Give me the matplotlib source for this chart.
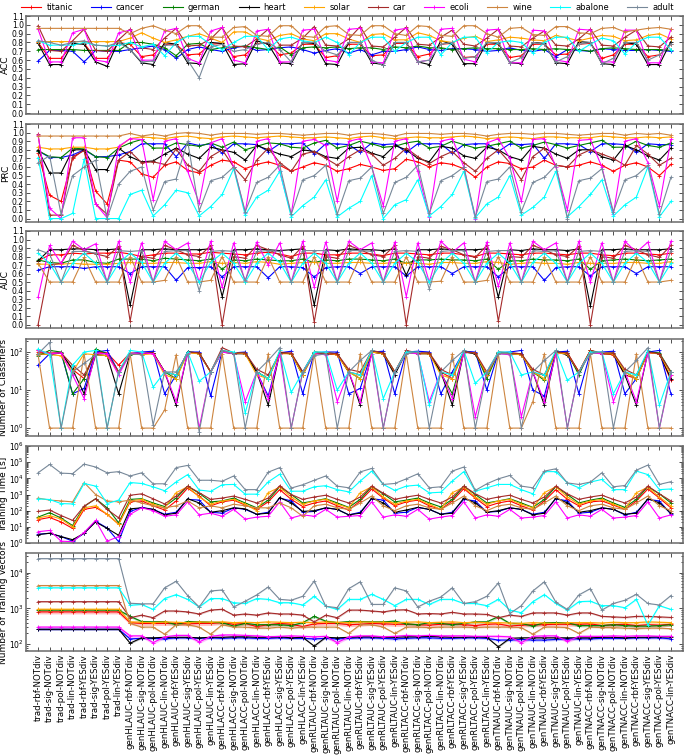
import matplotlib
matplotlib.use("Agg")
import matplotlib.pyplot as plt
import numpy as np

# ---- categories -------------------------------------------------------------
configs = [
    "trad-rbf-NOTdiv", "trad-sig-NOTdiv", "trad-pol-NOTdiv", "trad-lin-NOTdiv",
    "trad-rbf-YESdiv", "trad-sig-YESdiv", "trad-pol-YESdiv", "trad-lin-YESdiv",
    "genHLAUC-rbf-NOTdiv", "genHLAUC-sig-NOTdiv", "genHLAUC-pol-NOTdiv", "genHLAUC-lin-NOTdiv",
    "genHLAUC-rbf-YESdiv", "genHLAUC-sig-YESdiv", "genHLAUC-pol-YESdiv", "genHLAUC-lin-YESdiv",
    "genHLACC-rbf-NOTdiv", "genHLACC-sig-NOTdiv", "genHLACC-pol-NOTdiv", "genHLACC-lin-NOTdiv",
    "genHLACC-rbf-YESdiv", "genHLACC-sig-YESdiv", "genHLACC-pol-YESdiv", "genHLACC-lin-YESdiv",
    "genRLTAUC-rbf-NOTdiv", "genRLTAUC-sig-NOTdiv", "genRLTAUC-pol-NOTdiv", "genRLTAUC-lin-NOTdiv",
    "genRLTAUC-rbf-YESdiv", "genRLTAUC-sig-YESdiv", "genRLTAUC-pol-YESdiv", "genRLTAUC-lin-YESdiv",
    "genRLTACC-rbf-NOTdiv", "genRLTACC-sig-NOTdiv", "genRLTACC-pol-NOTdiv", "genRLTACC-lin-NOTdiv",
    "genRLTACC-rbf-YESdiv", "genRLTACC-sig-YESdiv", "genRLTACC-pol-YESdiv", "genRLTACC-lin-YESdiv",
    "genTNAUC-rbf-NOTdiv", "genTNAUC-sig-NOTdiv", "genTNAUC-pol-NOTdiv", "genTNAUC-lin-NOTdiv",
    "genTNAUC-rbf-YESdiv", "genTNAUC-sig-YESdiv", "genTNAUC-pol-YESdiv", "genTNAUC-lin-YESdiv",
    "genTNACC-rbf-NOTdiv", "genTNACC-sig-NOTdiv", "genTNACC-pol-NOTdiv", "genTNACC-lin-NOTdiv",
    "genTNACC-rbf-YESdiv", "genTNACC-sig-YESdiv", "genTNACC-pol-YESdiv", "genTNACC-lin-YESdiv",
]
datasets = ["titanic", "cancer", "german", "heart", "solar",
            "car", "ecoli", "wine", "abalone", "adult"]
colours = ["red", "blue", "green", "black", "orange",
           "brown", "magenta", "peru", "cyan", "lightslategray"]

# ---- ACC --------------------------------------------------------------------
acc_titanic = [0.80, 0.62, 0.62, 0.78, 0.79, 0.62, 0.62, 0.80,
               0.78, 0.64, 0.66, 0.78, 0.78, 0.66, 0.67, 0.78,
               0.79, 0.64, 0.66, 0.79, 0.79, 0.66, 0.68, 0.78,
               0.78, 0.63, 0.65, 0.78, 0.78, 0.65, 0.66, 0.79,
               0.79, 0.64, 0.67, 0.78, 0.79, 0.63, 0.64, 0.78,
               0.78, 0.63, 0.65, 0.78, 0.78, 0.66, 0.67, 0.78,
               0.79, 0.62, 0.66, 0.78, 0.78, 0.64, 0.66, 0.78]
acc_cancer = [0.59, 0.71, 0.71, 0.70, 0.58, 0.71, 0.70, 0.70,
              0.72, 0.74, 0.76, 0.72, 0.62, 0.72, 0.75, 0.72,
              0.70, 0.74, 0.76, 0.71, 0.72, 0.74, 0.75, 0.72,
              0.68, 0.71, 0.73, 0.68, 0.72, 0.66, 0.70, 0.70,
              0.72, 0.75, 0.72, 0.71, 0.73, 0.73, 0.72, 0.70,
              0.71, 0.74, 0.71, 0.70, 0.72, 0.64, 0.72, 0.71,
              0.70, 0.73, 0.72, 0.71, 0.71, 0.72, 0.71, 0.70]
acc_german = [0.72, 0.72, 0.72, 0.72, 0.71, 0.71, 0.71, 0.71,
              0.80, 0.80, 0.78, 0.74, 0.65, 0.78, 0.79, 0.72,
              0.74, 0.75, 0.76, 0.74, 0.72, 0.75, 0.66, 0.74,
              0.75, 0.74, 0.75, 0.73, 0.74, 0.74, 0.72, 0.75,
              0.74, 0.76, 0.74, 0.74, 0.72, 0.73, 0.74, 0.73,
              0.73, 0.72, 0.72, 0.73, 0.72, 0.73, 0.72, 0.72,
              0.70, 0.73, 0.74, 0.73, 0.72, 0.72, 0.72, 0.71]
acc_heart = [0.79, 0.55, 0.55, 0.79, 0.78, 0.58, 0.53, 0.82,
             0.72, 0.57, 0.55, 0.80, 0.78, 0.57, 0.56, 0.80,
             0.79, 0.55, 0.56, 0.82, 0.78, 0.57, 0.56, 0.80,
             0.79, 0.56, 0.55, 0.80, 0.80, 0.57, 0.55, 0.80,
             0.80, 0.58, 0.55, 0.82, 0.78, 0.56, 0.56, 0.80,
             0.79, 0.57, 0.56, 0.80, 0.79, 0.57, 0.56, 0.81,
             0.80, 0.56, 0.55, 0.80, 0.78, 0.55, 0.55, 0.81]
acc_solar = [0.81, 0.81, 0.81, 0.81, 0.81, 0.81, 0.81, 0.81,
             0.85, 0.91, 0.85, 0.80, 0.83, 0.87, 0.90, 0.85,
             0.80, 0.92, 0.92, 0.85, 0.82, 0.88, 0.90, 0.84,
             0.82, 0.90, 0.90, 0.84, 0.80, 0.89, 0.90, 0.83,
             0.83, 0.91, 0.88, 0.82, 0.80, 0.85, 0.87, 0.81,
             0.83, 0.86, 0.85, 0.83, 0.82, 0.88, 0.85, 0.82,
             0.85, 0.88, 0.87, 0.82, 0.83, 0.88, 0.90, 0.84]
acc_car = [0.99, 0.71, 0.70, 0.82, 0.95, 0.71, 0.70, 0.83,
           0.95, 0.74, 0.72, 0.85, 0.96, 0.76, 0.77, 0.84,
           0.97, 0.76, 0.75, 0.84, 0.95, 0.77, 0.77, 0.85,
           0.98, 0.77, 0.76, 0.84, 0.98, 0.76, 0.75, 0.86,
           0.97, 0.78, 0.77, 0.86, 0.94, 0.78, 0.76, 0.85,
           0.95, 0.76, 0.75, 0.85, 0.93, 0.77, 0.76, 0.84,
           0.95, 0.77, 0.76, 0.86, 0.94, 0.76, 0.75, 0.86]
acc_ecoli = [0.95, 0.58, 0.58, 0.91, 0.95, 0.60, 0.58, 0.91,
             0.94, 0.60, 0.60, 0.93, 0.96, 0.62, 0.57, 0.93,
             0.97, 0.60, 0.57, 0.93, 0.95, 0.58, 0.58, 0.94,
             0.95, 0.60, 0.58, 0.95, 0.96, 0.58, 0.57, 0.94,
             0.96, 0.58, 0.60, 0.95, 0.96, 0.61, 0.58, 0.94,
             0.95, 0.57, 0.57, 0.94, 0.93, 0.60, 0.58, 0.95,
             0.94, 0.58, 0.58, 0.94, 0.94, 0.57, 0.57, 0.95]
acc_wine = [0.96, 0.96, 0.96, 0.96, 0.96, 0.96, 0.96, 0.96,
            0.90, 0.96, 0.99, 0.94, 0.90, 0.99, 0.99, 0.86,
            0.86, 0.97, 0.98, 0.88, 0.87, 0.99, 0.99, 0.87,
            0.86, 0.98, 0.99, 0.89, 0.88, 0.99, 0.99, 0.90,
            0.88, 0.99, 0.98, 0.88, 0.87, 0.99, 0.99, 0.90,
            0.86, 0.96, 0.97, 0.89, 0.88, 0.98, 0.98, 0.91,
            0.90, 0.96, 0.97, 0.92, 0.94, 0.96, 0.97, 0.95]
acc_abalone = [0.82, 0.77, 0.77, 0.77, 0.80, 0.77, 0.76, 0.77,
               0.80, 0.75, 0.78, 0.65, 0.80, 0.87, 0.87, 0.78,
               0.72, 0.80, 0.87, 0.87, 0.72, 0.84, 0.86, 0.82,
               0.80, 0.86, 0.80, 0.66, 0.80, 0.86, 0.86, 0.70,
               0.80, 0.86, 0.86, 0.66, 0.80, 0.86, 0.86, 0.68,
               0.80, 0.82, 0.80, 0.68, 0.80, 0.86, 0.86, 0.70,
               0.78, 0.85, 0.82, 0.67, 0.80, 0.86, 0.86, 0.72]
acc_adult = [0.82, 0.80, 0.77, 0.80, 0.82, 0.77, 0.76, 0.80,
             0.72, 0.58, 0.59, 0.77, 0.77, 0.60, 0.40, 0.75,
             0.78, 0.70, 0.72, 0.78, 0.80, 0.72, 0.58, 0.80,
             0.80, 0.70, 0.66, 0.80, 0.80, 0.60, 0.54, 0.80,
             0.80, 0.58, 0.60, 0.78, 0.80, 0.62, 0.64, 0.80,
             0.80, 0.57, 0.63, 0.80, 0.78, 0.58, 0.64, 0.78,
             0.80, 0.56, 0.62, 0.80, 0.80, 0.60, 0.66, 0.78]

# ---- PRC --------------------------------------------------------------------
prc_titanic = [0.76, 0.27, 0.20, 0.70, 0.80, 0.32, 0.17, 0.68,
               0.66, 0.52, 0.48, 0.62, 0.66, 0.56, 0.53, 0.62,
               0.68, 0.66, 0.58, 0.63, 0.66, 0.62, 0.55, 0.60,
               0.65, 0.62, 0.55, 0.58, 0.63, 0.60, 0.56, 0.58,
               0.69, 0.66, 0.60, 0.65, 0.63, 0.58, 0.48, 0.60,
               0.66, 0.64, 0.58, 0.60, 0.68, 0.62, 0.60, 0.62,
               0.66, 0.62, 0.55, 0.62, 0.65, 0.60, 0.50, 0.63]
prc_cancer = [0.79, 0.71, 0.71, 0.74, 0.80, 0.72, 0.72, 0.74,
              0.78, 0.87, 0.87, 0.87, 0.72, 0.88, 0.85, 0.87,
              0.76, 0.87, 0.87, 0.86, 0.78, 0.87, 0.87, 0.88,
              0.75, 0.87, 0.87, 0.86, 0.77, 0.88, 0.86, 0.87,
              0.77, 0.87, 0.87, 0.87, 0.76, 0.86, 0.87, 0.87,
              0.78, 0.87, 0.86, 0.87, 0.70, 0.87, 0.87, 0.86,
              0.78, 0.87, 0.87, 0.86, 0.77, 0.87, 0.86, 0.86]
prc_german = [0.79, 0.72, 0.71, 0.82, 0.81, 0.72, 0.71, 0.82,
              0.88, 0.92, 0.82, 0.82, 0.88, 0.86, 0.84, 0.88,
              0.83, 0.89, 0.80, 0.84, 0.88, 0.87, 0.83, 0.82,
              0.88, 0.91, 0.82, 0.85, 0.90, 0.87, 0.83, 0.84,
              0.88, 0.90, 0.82, 0.84, 0.90, 0.86, 0.82, 0.84,
              0.87, 0.90, 0.82, 0.85, 0.89, 0.86, 0.82, 0.85,
              0.88, 0.91, 0.83, 0.83, 0.90, 0.85, 0.83, 0.88]
prc_heart = [0.80, 0.53, 0.53, 0.80, 0.80, 0.57, 0.57, 0.82,
             0.72, 0.66, 0.67, 0.75, 0.82, 0.75, 0.70, 0.83,
             0.80, 0.77, 0.68, 0.85, 0.80, 0.75, 0.72, 0.80,
             0.78, 0.72, 0.70, 0.82, 0.83, 0.76, 0.72, 0.85,
             0.80, 0.70, 0.66, 0.84, 0.82, 0.73, 0.70, 0.83,
             0.80, 0.72, 0.68, 0.84, 0.82, 0.75, 0.70, 0.80,
             0.80, 0.72, 0.68, 0.85, 0.80, 0.73, 0.68, 0.82]
prc_solar = [0.83, 0.81, 0.81, 0.83, 0.83, 0.81, 0.81, 0.83,
             0.93, 0.95, 0.94, 0.93, 0.95, 0.96, 0.94, 0.93,
             0.95, 0.96, 0.95, 0.94, 0.95, 0.96, 0.95, 0.94,
             0.94, 0.95, 0.94, 0.93, 0.95, 0.96, 0.94, 0.93,
             0.94, 0.95, 0.94, 0.94, 0.95, 0.96, 0.95, 0.93,
             0.94, 0.95, 0.94, 0.93, 0.95, 0.95, 0.94, 0.94,
             0.94, 0.96, 0.95, 0.94, 0.94, 0.95, 0.94, 0.95]
prc_car = [0.98, 0.04, 0.04, 0.72, 0.79, 0.17, 0.05, 0.68,
           0.78, 0.65, 0.66, 0.63, 0.81, 0.62, 0.55, 0.72,
           0.80, 0.60, 0.45, 0.68, 0.82, 0.65, 0.55, 0.75,
           0.78, 0.70, 0.62, 0.72, 0.80, 0.75, 0.62, 0.70,
           0.82, 0.72, 0.64, 0.72, 0.78, 0.65, 0.55, 0.70,
           0.80, 0.65, 0.45, 0.72, 0.82, 0.62, 0.60, 0.74,
           0.80, 0.75, 0.70, 0.62, 0.85, 0.75, 0.62, 0.70]
prc_ecoli = [0.97, 0.12, 0.00, 0.94, 0.94, 0.17, 0.01, 0.84,
             0.93, 0.92, 0.22, 0.90, 0.93, 0.55, 0.18, 0.88,
             0.93, 0.60, 0.07, 0.90, 0.93, 0.55, 0.05, 0.90,
             0.92, 0.85, 0.20, 0.90, 0.93, 0.60, 0.15, 0.90,
             0.93, 0.55, 0.02, 0.90, 0.93, 0.60, 0.00, 0.88,
             0.93, 0.70, 0.20, 0.92, 0.93, 0.60, 0.10, 0.91,
             0.92, 0.60, 0.05, 0.90, 0.93, 0.65, 0.15, 0.92]
prc_wine = [0.96, 0.96, 0.96, 0.96, 0.96, 0.96, 0.96, 0.96,
            0.99, 0.96, 0.98, 0.96, 0.99, 1.00, 0.99, 0.97,
            0.99, 0.99, 0.99, 0.98, 0.99, 0.99, 0.98, 0.97,
            0.98, 0.99, 0.99, 0.97, 0.99, 0.99, 0.98, 0.96,
            0.99, 0.99, 0.99, 0.98, 0.99, 0.99, 0.98, 0.96,
            0.98, 0.99, 0.99, 0.98, 0.99, 0.99, 0.98, 0.97,
            0.98, 0.99, 0.99, 0.97, 0.99, 0.98, 0.99, 0.97]
prc_abalone = [0.71, 0.00, 0.00, 0.06, 0.69, 0.00, 0.00, 0.00,
               0.28, 0.33, 0.03, 0.16, 0.33, 0.30, 0.03, 0.14,
               0.28, 0.58, 0.04, 0.25, 0.33, 0.55, 0.02, 0.15,
               0.25, 0.45, 0.02, 0.12, 0.20, 0.50, 0.00, 0.16,
               0.22, 0.45, 0.03, 0.14, 0.28, 0.55, 0.01, 0.17,
               0.25, 0.50, 0.04, 0.13, 0.25, 0.55, 0.02, 0.14,
               0.28, 0.45, 0.03, 0.16, 0.25, 0.60, 0.02, 0.20]
prc_adult = [0.65, 0.73, 0.05, 0.50, 0.60, 0.68, 0.00, 0.40,
             0.55, 0.60, 0.10, 0.43, 0.46, 0.90, 0.09, 0.44,
             0.48, 0.60, 0.08, 0.42, 0.48, 0.62, 0.05, 0.45,
             0.50, 0.62, 0.05, 0.44, 0.47, 0.60, 0.06, 0.42,
             0.48, 0.62, 0.06, 0.44, 0.50, 0.60, 0.02, 0.43,
             0.46, 0.60, 0.08, 0.42, 0.48, 0.62, 0.00, 0.44,
             0.47, 0.58, 0.08, 0.45, 0.50, 0.62, 0.05, 0.48]

# ---- AUC --------------------------------------------------------------------
auc_titanic = [0.75, 0.82, 0.82, 0.84, 0.83, 0.84, 0.84, 0.85,
               0.83, 0.80, 0.82, 0.84, 0.84, 0.83, 0.83, 0.85,
               0.84, 0.83, 0.82, 0.84, 0.85, 0.83, 0.80, 0.84,
               0.84, 0.82, 0.82, 0.84, 0.84, 0.83, 0.81, 0.84,
               0.84, 0.83, 0.82, 0.84, 0.84, 0.82, 0.80, 0.84,
               0.84, 0.83, 0.82, 0.84, 0.84, 0.83, 0.82, 0.84,
               0.84, 0.82, 0.81, 0.84, 0.84, 0.83, 0.82, 0.84]
auc_cancer = [0.64, 0.68, 0.68, 0.68, 0.66, 0.68, 0.68, 0.68,
              0.60, 0.68, 0.68, 0.68, 0.52, 0.67, 0.67, 0.68,
              0.56, 0.68, 0.68, 0.68, 0.55, 0.68, 0.68, 0.67,
              0.56, 0.67, 0.68, 0.68, 0.60, 0.68, 0.68, 0.68,
              0.57, 0.68, 0.68, 0.68, 0.60, 0.68, 0.68, 0.68,
              0.56, 0.68, 0.68, 0.68, 0.52, 0.67, 0.68, 0.68,
              0.57, 0.68, 0.68, 0.68, 0.60, 0.68, 0.68, 0.68]
auc_german = [0.76, 0.73, 0.72, 0.76, 0.76, 0.73, 0.72, 0.77,
              0.77, 0.77, 0.75, 0.78, 0.77, 0.76, 0.75, 0.77,
              0.65, 0.76, 0.75, 0.77, 0.76, 0.75, 0.75, 0.77,
              0.73, 0.76, 0.75, 0.77, 0.77, 0.76, 0.75, 0.77,
              0.72, 0.76, 0.76, 0.77, 0.76, 0.76, 0.75, 0.77,
              0.65, 0.75, 0.75, 0.77, 0.76, 0.76, 0.75, 0.77,
              0.65, 0.75, 0.76, 0.77, 0.76, 0.75, 0.76, 0.77]
auc_heart = [0.75, 0.88, 0.88, 0.89, 0.89, 0.88, 0.88, 0.89,
             0.23, 0.88, 0.88, 0.89, 0.88, 0.88, 0.88, 0.89,
             0.33, 0.88, 0.88, 0.89, 0.88, 0.87, 0.88, 0.89,
             0.23, 0.88, 0.87, 0.89, 0.88, 0.88, 0.87, 0.89,
             0.58, 0.88, 0.88, 0.89, 0.88, 0.88, 0.88, 0.89,
             0.32, 0.88, 0.87, 0.89, 0.88, 0.88, 0.87, 0.89,
             0.22, 0.88, 0.88, 0.89, 0.88, 0.88, 0.88, 0.89]
auc_solar = [0.71, 0.71, 0.71, 0.72, 0.71, 0.71, 0.71, 0.72,
             0.73, 0.72, 0.72, 0.73, 0.73, 0.72, 0.72, 0.74,
             0.72, 0.73, 0.72, 0.74, 0.73, 0.71, 0.72, 0.73,
             0.73, 0.72, 0.72, 0.73, 0.73, 0.72, 0.72, 0.73,
             0.72, 0.72, 0.71, 0.73, 0.73, 0.72, 0.72, 0.74,
             0.73, 0.71, 0.72, 0.73, 0.72, 0.72, 0.71, 0.73,
             0.72, 0.72, 0.72, 0.73, 0.73, 0.72, 0.72, 0.74]
auc_car = [0.00, 0.70, 0.72, 0.93, 0.87, 0.83, 0.80, 0.92,
           0.04, 0.80, 0.78, 0.93, 0.88, 0.82, 0.80, 0.93,
           0.00, 0.80, 0.78, 0.93, 0.88, 0.82, 0.78, 0.92,
           0.03, 0.80, 0.78, 0.93, 0.88, 0.82, 0.80, 0.93,
           0.00, 0.80, 0.78, 0.92, 0.88, 0.82, 0.79, 0.93,
           0.04, 0.80, 0.79, 0.93, 0.88, 0.82, 0.80, 0.92,
           0.00, 0.80, 0.78, 0.93, 0.88, 0.82, 0.79, 0.93]
auc_ecoli = [0.32, 0.93, 0.72, 0.98, 0.88, 0.95, 0.50, 0.98,
             0.50, 0.96, 0.50, 0.98, 0.88, 0.96, 0.50, 0.98,
             0.44, 0.96, 0.51, 0.97, 0.70, 0.96, 0.50, 0.98,
             0.44, 0.97, 0.50, 0.98, 0.88, 0.96, 0.50, 0.97,
             0.33, 0.96, 0.50, 0.98, 0.85, 0.96, 0.50, 0.97,
             0.45, 0.96, 0.50, 0.98, 0.88, 0.96, 0.50, 0.98,
             0.50, 0.96, 0.50, 0.98, 0.85, 0.97, 0.50, 0.98]
auc_wine = [0.72, 0.50, 0.50, 0.50, 0.79, 0.50, 0.50, 0.50,
            0.80, 0.50, 0.50, 0.52, 0.80, 0.50, 0.50, 0.52,
            0.80, 0.50, 0.50, 0.50, 0.80, 0.50, 0.50, 0.50,
            0.80, 0.50, 0.50, 0.50, 0.80, 0.50, 0.50, 0.50,
            0.80, 0.50, 0.50, 0.51, 0.80, 0.50, 0.50, 0.52,
            0.80, 0.50, 0.50, 0.50, 0.80, 0.50, 0.50, 0.50,
            0.80, 0.50, 0.50, 0.50, 0.80, 0.50, 0.50, 0.52]
auc_abalone = [0.84, 0.72, 0.50, 0.72, 0.84, 0.72, 0.50, 0.72,
               0.84, 0.73, 0.50, 0.72, 0.84, 0.72, 0.50, 0.73,
               0.84, 0.72, 0.50, 0.72, 0.84, 0.73, 0.50, 0.72,
               0.84, 0.72, 0.50, 0.72, 0.84, 0.72, 0.50, 0.72,
               0.84, 0.73, 0.50, 0.72, 0.84, 0.72, 0.50, 0.72,
               0.84, 0.72, 0.50, 0.73, 0.84, 0.72, 0.50, 0.72,
               0.84, 0.72, 0.50, 0.72, 0.84, 0.73, 0.50, 0.72]
auc_adult = [0.88, 0.83, 0.50, 0.86, 0.86, 0.84, 0.50, 0.87,
             0.86, 0.87, 0.50, 0.86, 0.87, 0.87, 0.40, 0.86,
             0.87, 0.86, 0.52, 0.86, 0.87, 0.86, 0.50, 0.87,
             0.87, 0.87, 0.50, 0.87, 0.87, 0.86, 0.50, 0.86,
             0.87, 0.86, 0.42, 0.86, 0.87, 0.87, 0.50, 0.86,
             0.87, 0.87, 0.50, 0.87, 0.86, 0.87, 0.50, 0.86,
             0.87, 0.86, 0.50, 0.86, 0.87, 0.86, 0.50, 0.87]

# ---- Number of classifiers --------------------------------------------------
clf_titanic = [100, 95, 95, 35, 20, 100, 95, 45,
               95, 90, 95, 30, 25, 100, 95, 30,
               110, 95, 90, 30, 20, 100, 90, 25,
               95, 90, 85, 30, 25, 100, 90, 30,
               100, 95, 90, 30, 20, 105, 95, 25,
               100, 95, 90, 28, 25, 100, 95, 30,
               110, 90, 85, 25, 20, 95, 90, 18]
clf_cancer = [45, 90, 95, 8, 11, 100, 110, 30,
              90, 100, 105, 8, 25, 100, 100, 7,
              105, 95, 100, 30, 7, 95, 105, 8,
              95, 100, 100, 8, 11, 100, 105, 8,
              100, 105, 100, 8, 30, 105, 100, 10,
              95, 100, 110, 10, 7, 100, 105, 8,
              95, 100, 105, 8, 20, 100, 110, 8]
clf_german = [80, 110, 100, 8, 20, 120, 90, 30,
              85, 90, 95, 30, 20, 100, 95, 30,
              110, 90, 95, 30, 20, 95, 90, 25,
              100, 95, 90, 30, 20, 100, 95, 30,
              100, 90, 95, 28, 8, 100, 95, 20,
              95, 90, 90, 30, 18, 100, 95, 25,
              110, 90, 95, 30, 20, 100, 95, 30]
clf_heart = [90, 85, 95, 35, 8, 85, 80, 8,
             90, 90, 95, 30, 4, 100, 90, 30,
             100, 90, 90, 30, 4, 95, 90, 30,
             95, 90, 90, 30, 4, 100, 90, 25,
             100, 90, 90, 30, 4, 100, 90, 25,
             95, 90, 85, 30, 4, 100, 85, 30,
             100, 90, 90, 25, 4, 100, 90, 20]
clf_solar = [90, 85, 80, 30, 90, 85, 80, 30,
             90, 85, 90, 25, 20, 95, 90, 30,
             100, 95, 90, 25, 20, 90, 90, 25,
             95, 95, 85, 30, 20, 100, 90, 30,
             100, 90, 90, 25, 20, 100, 95, 25,
             95, 90, 85, 30, 20, 95, 90, 30,
             110, 90, 90, 30, 20, 95, 90, 25]
clf_car = [110, 90, 95, 45, 25, 90, 90, 30,
           90, 95, 95, 30, 25, 100, 95, 30,
           130, 95, 95, 35, 25, 95, 95, 30,
           100, 95, 90, 35, 30, 110, 95, 30,
           110, 95, 95, 35, 25, 100, 95, 30,
           100, 95, 90, 35, 25, 100, 95, 30,
           110, 95, 95, 35, 25, 100, 90, 30]
clf_ecoli = [110, 90, 95, 25, 6, 95, 90, 25,
             90, 95, 90, 30, 5, 95, 1, 30,
             100, 90, 5, 30, 6, 90, 1, 30,
             90, 85, 5, 30, 5, 90, 1, 30,
             95, 90, 5, 30, 6, 95, 2, 30,
             90, 85, 2, 30, 5, 90, 1, 30,
             95, 90, 5, 30, 5, 95, 1, 25]
clf_wine = [85, 1, 1, 1, 90, 1, 1, 1,
            90, 1, 1, 3, 85, 1, 1, 1,
            90, 1, 1, 1, 90, 1, 1, 1,
            90, 1, 1, 1, 90, 1, 1, 1,
            90, 1, 1, 1, 90, 1, 1, 1,
            90, 1, 1, 5, 90, 1, 1, 1,
            90, 1, 1, 1, 90, 1, 1, 1]
clf_abalone = [120, 85, 1, 45, 100, 110, 1, 30,
               110, 100, 12, 30, 25, 100, 17, 30,
               110, 100, 2.5, 30, 20, 110, 8.7, 30,
               100, 100, 10, 30, 25, 110, 6, 30,
               100, 100, 4, 30, 25, 110, 15, 30,
               100, 100, 25, 30, 25, 110, 18, 30,
               100, 100, 8, 30, 25, 110, 4, 30]
clf_adult = [90, 180, 1, 30, 50, 85, 1, 30,
             90, 85, 1.2, 30, 30, 90, 0.8, 30,
             110, 90, 1, 30, 60, 130, 1, 30,
             80, 90, 1, 30, 60, 110, 1, 30,
             90, 100, 1, 30, 60, 110, 1, 30,
             90, 90, 1, 30, 60, 110, 1, 30,
             90, 100, 1, 30, 60, 130, 1, 30]

# ---- Training time [s] -----------------------------------------------------
tt_titanic = [28, 38, 20, 8, 120, 160, 60, 15,
              350, 400, 200, 110, 400, 2500, 800, 200,
              350, 450, 220, 120, 350, 2000, 500, 180,
              300, 400, 200, 110, 400, 2200, 600, 200,
              350, 450, 200, 120, 400, 2300, 600, 180,
              300, 400, 200, 110, 400, 2000, 500, 200,
              350, 400, 220, 120, 400, 2200, 600, 150]
tt_cancer = [3.5, 4, 2.5, 1.3, 4, 22, 8.5, 1.2,
             90, 160, 120, 60, 80, 500, 450, 80,
             70, 150, 120, 60, 80, 600, 400, 80,
             90, 150, 120, 55, 80, 550, 450, 70,
             80, 160, 120, 60, 80, 500, 400, 80,
             90, 150, 120, 60, 80, 550, 400, 70,
             80, 150, 120, 55, 80, 500, 400, 60]
tt_german = [40, 75, 35, 12, 180, 550, 150, 18,
             500, 550, 300, 180, 600, 3200, 1200, 350,
             400, 600, 300, 150, 450, 3000, 1000, 300,
             400, 550, 300, 160, 500, 3000, 1100, 350,
             450, 600, 300, 170, 500, 3200, 1000, 300,
             400, 550, 300, 160, 500, 3000, 1000, 300,
             450, 600, 300, 160, 500, 3000, 1100, 300]
tt_heart = [3.3, 4, 2.5, 1.6, 4, 20, 8, 3,
            130, 150, 120, 55, 70, 550, 300, 80,
            100, 150, 130, 60, 70, 650, 300, 90,
            100, 150, 120, 55, 70, 600, 300, 80,
            110, 160, 120, 60, 70, 600, 300, 80,
            100, 150, 120, 55, 70, 600, 300, 80,
            100, 150, 120, 60, 70, 550, 300, 70]
tt_solar = [35, 50, 30, 10, 150, 200, 60, 14,
            400, 500, 250, 150, 1300, 3000, 700, 250,
            400, 500, 250, 100, 1300, 2800, 700, 250,
            400, 500, 250, 150, 1300, 3000, 700, 250,
            400, 500, 250, 120, 1300, 2800, 700, 250,
            400, 500, 250, 150, 1300, 3000, 700, 250,
            400, 500, 250, 130, 1300, 2800, 700, 200]
tt_car = [90, 110, 50, 25, 190, 540, 120, 36,
          900, 1100, 540, 260, 800, 3300, 1300, 500,
          600, 800, 500, 300, 600, 3500, 1000, 500,
          700, 900, 500, 300, 700, 3300, 1200, 500,
          700, 900, 500, 300, 700, 3300, 1100, 500,
          700, 900, 500, 300, 700, 3300, 1100, 500,
          700, 900, 500, 300, 700, 3300, 1100, 400]
tt_ecoli = [5, 6, 1.3, 1.2, 4.5, 25, 1.3, 2.5,
            60, 150, 100, 45, 55, 350, 55, 70,
            45, 120, 30, 40, 45, 350, 35, 55,
            45, 120, 40, 45, 50, 350, 40, 55,
            45, 120, 30, 40, 50, 350, 35, 55,
            45, 120, 35, 40, 50, 350, 35, 55,
            45, 120, 35, 40, 50, 350, 35, 55]
tt_wine = [600, 450, 400, 350, 5500, 1000, 400, 350,
           450, 300, 200, 150, 200, 400, 150, 200,
           150, 250, 200, 150, 150, 300, 150, 45,
           200, 250, 150, 120, 300, 800, 200, 100,
           200, 250, 150, 120, 300, 800, 200, 100,
           200, 250, 150, 120, 300, 800, 200, 100,
           200, 250, 150, 120, 300, 800, 200, 100]
tt_abalone = [540, 490, 275, 260, 4800, 3300, 275, 450,
              5500, 4800, 3000, 1700, 6000, 17000, 1900, 1550,
              4000, 4200, 1050, 1050, 6000, 18000, 1600, 1600,
              3000, 3500, 2000, 1450, 6800, 28000, 4200, 1800,
              3300, 3800, 1260, 1380, 6800, 26000, 1600, 2600,
              4200, 4200, 2000, 1100, 26000, 26000, 5200, 2600,
              5900, 8500, 2000, 2000, 28000, 17000, 2000, 2200]
tt_adult = [22000, 72000, 21000, 19500, 76000, 50000, 22000, 26000,
            14000, 22000, 4600, 4600, 46000, 63000, 7600, 7600,
            6600, 14000, 2000, 2000, 24000, 46000, 2500, 4000,
            7600, 14000, 3300, 2600, 25000, 41000, 4200, 4800,
            9300, 19000, 2600, 3000, 28000, 50000, 1800, 4600,
            9300, 15000, 3300, 2600, 28000, 39000, 5200, 4200,
            5900, 22000, 3000, 3600, 32000, 66000, 4200, 6200]

# ---- Number of training vectors --------------------------------------------
tv_titanic = [800, 800, 800, 800, 800, 800, 800, 800,
              400, 380, 380, 380, 380, 370, 380, 380,
              400, 360, 380, 310, 350, 380, 360, 310,
              370, 380, 380, 350, 360, 380, 370, 360,
              360, 350, 340, 360, 370, 350, 330, 360,
              370, 320, 340, 350, 350, 360, 360, 360,
              370, 330, 350, 360, 330, 350, 340, 360]
tv_cancer = [260, 260, 260, 260, 260, 260, 260, 260,
             140, 145, 145, 140, 150, 150, 145, 150,
             145, 150, 150, 145, 145, 150, 145, 145,
             140, 145, 140, 145, 150, 150, 145, 140,
             145, 150, 150, 145, 145, 150, 150, 145,
             130, 130, 135, 130, 130, 135, 140, 140,
             140, 145, 145, 145, 150, 150, 150, 140]
tv_german = [900, 900, 900, 900, 900, 900, 900, 900,
             600, 430, 420, 430, 350, 430, 420, 410,
             400, 320, 380, 350, 350, 350, 330, 400,
             600, 440, 400, 430, 430, 420, 420, 440,
             370, 350, 400, 380, 350, 380, 420, 420,
             590, 380, 380, 320, 400, 400, 400, 330,
             330, 330, 350, 330, 320, 320, 330, 350]
tv_heart = [260, 260, 260, 260, 260, 260, 260, 260,
            106, 150, 150, 155, 155, 155, 150, 155,
            155, 160, 160, 155, 155, 160, 150, 155,
            88, 155, 150, 155, 160, 160, 155, 155,
            160, 160, 165, 160, 155, 155, 160, 155,
            84, 145, 150, 150, 150, 150, 150, 150,
            150, 155, 155, 150, 155, 155, 160, 160]
tv_solar = [950, 950, 950, 950, 950, 950, 950, 950,
            420, 410, 400, 420, 410, 400, 420, 410,
            420, 400, 410, 400, 420, 410, 400, 410,
            400, 420, 410, 400, 420, 410, 410, 400,
            410, 420, 400, 410, 420, 400, 410, 400,
            400, 390, 380, 400, 390, 380, 400, 400,
            400, 390, 410, 400, 400, 420, 410, 400]
tv_car = [1550, 1550, 1550, 1550, 1550, 1550, 1550, 1550,
          550, 650, 550, 850, 850, 800, 700, 900,
          950, 650, 700, 650, 750, 700, 700, 650,
          420, 650, 550, 900, 900, 850, 800, 900,
          920, 700, 720, 700, 780, 700, 700, 680,
          550, 650, 600, 750, 750, 750, 650, 750,
          750, 600, 580, 560, 600, 600, 580, 560]
tv_ecoli = [300, 300, 300, 300, 300, 300, 300, 300,
            170, 170, 110, 160, 175, 175, 115, 165,
            180, 180, 175, 170, 160, 165, 170, 165,
            160, 165, 110, 160, 170, 170, 160, 165,
            175, 170, 175, 170, 170, 170, 165, 165,
            165, 160, 110, 165, 170, 170, 120, 165,
            165, 165, 170, 165, 170, 170, 165, 165]
tv_wine = [4400, 4400, 4400, 4400, 4400, 4400, 4400, 4400,
           380, 300, 300, 190, 350, 350, 300, 190,
           350, 300, 300, 280, 280, 300, 280, 300,
           300, 300, 300, 200, 350, 350, 300, 200,
           300, 300, 290, 300, 300, 300, 290, 300,
           300, 300, 290, 190, 300, 300, 290, 200,
           300, 290, 290, 280, 270, 280, 280, 270]
tv_abalone = [3800, 3800, 3800, 3800, 3800, 3800, 3800, 3800,
              1230, 1300, 940, 1900, 2450, 1800, 1100, 1900,
              1900, 1450, 1380, 1900, 1800, 1450, 1450, 1250,
              2200, 1170, 940, 1800, 1800, 2500, 1800, 1200,
              1800, 1800, 1300, 1800, 1800, 1380, 1380, 1200,
              1800, 900, 760, 1550, 2450, 1380, 900, 1550,
              1600, 1200, 1200, 1050, 1800, 340, 1200, 940]
tv_adult = [25000, 25000, 25000, 25000, 25000, 25000, 25000, 25000,
            1400, 1350, 1350, 3800, 5800, 2300, 1100, 3100,
            3300, 1100, 1600, 2400, 4000, 1800, 1700, 2200,
            5900, 1150, 1050, 3600, 5600, 1300, 1300, 3800,
            3100, 1100, 1600, 2100, 3800, 1380, 1550, 2200,
            5200, 720, 1200, 3100, 5600, 1500, 940, 2400,
            3600, 900, 1380, 1700, 2500, 1380, 1250, 2300]
# relative half-width of the shaded spread around each training-vector line
tv_spread = [0.12, 0.07, 0.08, 0.05, 0.08, 0.05, 0.10, 0.05, 0.04, 0.02]

panels = [
    ("ACC", [acc_titanic, acc_cancer, acc_german, acc_heart, acc_solar,
             acc_car, acc_ecoli, acc_wine, acc_abalone, acc_adult]),
    ("PRC", [prc_titanic, prc_cancer, prc_german, prc_heart, prc_solar,
             prc_car, prc_ecoli, prc_wine, prc_abalone, prc_adult]),
    ("AUC", [auc_titanic, auc_cancer, auc_german, auc_heart, auc_solar,
             auc_car, auc_ecoli, auc_wine, auc_abalone, auc_adult]),
    ("Number of Classifiers", [clf_titanic, clf_cancer, clf_german, clf_heart, clf_solar,
                               clf_car, clf_ecoli, clf_wine, clf_abalone, clf_adult]),
    ("Training Time [s]", [tt_titanic, tt_cancer, tt_german, tt_heart, tt_solar,
                           tt_car, tt_ecoli, tt_wine, tt_abalone, tt_adult]),
    ("Number of Training Vectors", [tv_titanic, tv_cancer, tv_german, tv_heart, tv_solar,
                                    tv_car, tv_ecoli, tv_wine, tv_abalone, tv_adult]),
]

# ---- layout (pixel boxes of the six panels) --------------------------------
W, H = 685, 756
LEFT_PX, RIGHT_PX = 26, 683
boxes_px = [(16, 114), (124, 222), (231, 328), (339, 436), (446, 543), (553, 651)]
FRAME = "#6a6a6a"
FS = 6.2     # x tick labels
YFS = 5.5    # y tick labels
LFS = 6.5    # axis labels

fig = plt.figure(figsize=(W / 100, H / 100), dpi=100)
x = np.arange(len(configs))
handles = []

for p, ((ylabel, series), (top, bot)) in enumerate(zip(panels, boxes_px)):
    ax = fig.add_axes([LEFT_PX / W, 1 - bot / H, (RIGHT_PX - LEFT_PX) / W, (bot - top) / H])
    for i, vals in enumerate(series):
        ln, = ax.plot(x, vals, color=colours[i], lw=0.8, marker="+", ms=3, mew=0.6)
        if p == 5:
            v = np.asarray(vals, dtype=float)
            ax.fill_between(x, v * (1 - tv_spread[i]), v * (1 + tv_spread[i]),
                            color=colours[i], alpha=0.25, lw=0)
        if p == 0:
            handles.append(ln)

    ax.set_xlim(-1.05, 56.05)
    if p < 3:
        ax.set_ylim(-0.01 if p == 0 else -0.04, 1.1)
        ticks = np.arange(0, 1.11, 0.1)
        ax.set_yticks(ticks)
        ax.set_yticklabels([f"{t:.1f}" for t in ticks])
    else:
        ax.set_yscale("log")
        if p == 3:
            ax.set_ylim(0.62, 220)
            dec = [0, 1, 2]
        elif p == 4:
            ax.set_ylim(1, 1e6)
            dec = [0, 1, 2, 3, 4, 5, 6]
        else:
            ax.set_ylim(64, 36000)
            dec = [2, 3, 4]
        ax.set_yticks([10.0 ** d for d in dec])
        ax.set_yticklabels([f"$10^{{{d}}}$" for d in dec])

    ax.set_xticks(x)
    if p == 5:
        ax.set_xticklabels(configs, rotation=90, fontsize=FS)
    else:
        ax.set_xticklabels([])
    ax.set_ylabel(ylabel, fontsize=LFS, labelpad=1)
    ax.tick_params(axis="y", labelsize=YFS, pad=1.5)
    ax.tick_params(axis="x", pad=2)
    ax.tick_params(direction="in", top=True, right=True,
                   length=3, width=0.6, colors="#333333", labelcolor="black")
    ax.tick_params(which="minor", direction="in", right=True, length=1.5, width=0.5)
    for s in ax.spines.values():
        s.set_color(FRAME)
        s.set_linewidth(1.1)

fig.legend(handles, datasets, loc="lower left", ncol=10, frameon=False,
           fontsize=6, mode="expand", bbox_to_anchor=(0.03, 0.983, 0.955, 0.017),
           handlelength=2.4, handletextpad=0.6, borderaxespad=0, borderpad=0.1)

fig.savefig("out.png", dpi=100)
